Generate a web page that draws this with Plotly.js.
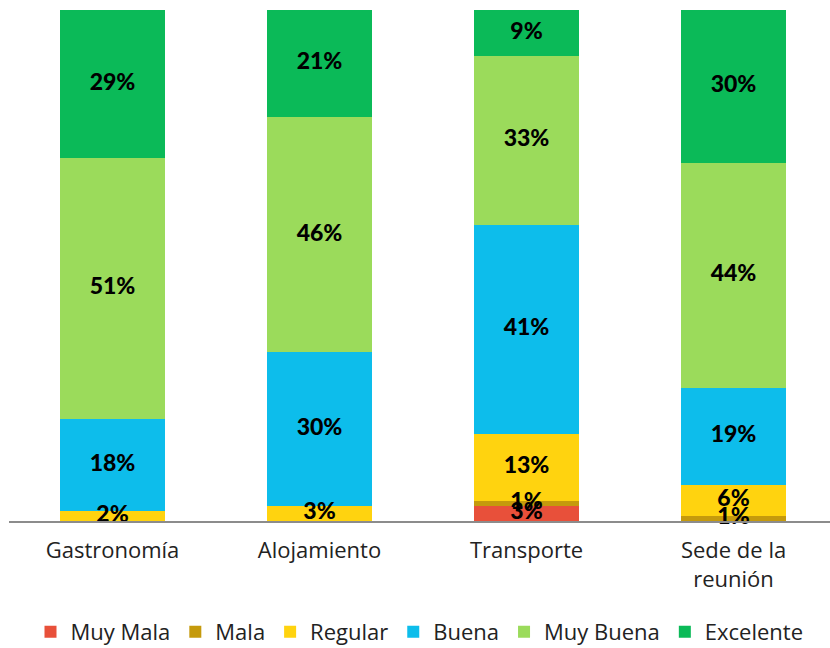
<!DOCTYPE html>
<html>
<head>
<meta charset="utf-8">
<script src="https://cdn.plot.ly/plotly-3.0.1.min.js"></script>
<style>html,body{margin:0;padding:0;background:#fff;}#chart{width:830px;height:648px;}</style>
</head>
<body>
<div id="chart"></div>
<script>
const categories = ['Gastronomía', 'Alojamiento', 'Transporte', 'Sede de la<br>reunión'];
const seriesNames = ['Muy Mala', 'Mala', 'Regular', 'Buena', 'Muy Buena', 'Excelente'];
const muyMala   = [0, 0, 3, 0];
const mala      = [0, 0, 1, 1];
const regular   = [2, 3, 13, 6];
const buena     = [18, 30, 41, 19];
const muyBuena  = [51, 46, 33, 44];
const excelente = [29, 21, 9, 30];
const colors = ['#E8503A', '#C59A0C', '#FFD30F', '#0DBDEB', '#9BDB5B', '#0BBA58'];

const series = [muyMala, mala, regular, buena, muyBuena, excelente];
const font = '"Open Sans", Lato, sans-serif';
const labelFont = 'Lato, "Open Sans", sans-serif';

const traces = series.map((vals, i) => ({
  type: 'bar',
  name: seriesNames[i],
  x: categories,
  y: vals,
  marker: {color: colors[i], line: {width: 0}},
  hoverinfo: 'skip'
}));

// labels at segment midpoints
const lx = [], ly = [], lt = [];
const cum = categories.map(() => 0);
series.forEach(vals => {
  vals.forEach((v, j) => {
    if (v > 0) {
      lx.push(categories[j]);
      ly.push(cum[j] + v / 2);
      lt.push(v + '%');
    }
    cum[j] += v;
  });
});
traces.push({
  type: 'scatter',
  mode: 'text',
  x: lx, y: ly, text: lt,
  textposition: 'middle center',
  textfont: {family: labelFont, size: 23, color: '#000', weight: 900},
  cliponaxis: false,
  showlegend: false,
  hoverinfo: 'skip'
});

const layout = {
  width: 830, height: 648,
  margin: {l: 9, r: 0, t: 10, b: 127, autoexpand: false},
  barmode: 'stack',
  bargap: 0.493,
  paper_bgcolor: '#fff',
  plot_bgcolor: '#fff',
  font: {family: font, color: '#222'},
  showlegend: true,
  xaxis: {
    type: 'category',
    automargin: false,
    range: [-0.5, 3.466],
    showline: true, linecolor: '#8c8c8c', linewidth: 2,
    ticks: '', showgrid: false, zeroline: false,
    tickfont: {family: font, size: 22, color: '#222'},
    ticklabelstandoff: 9
  },
  yaxis: {
    range: [0, 100],
    automargin: false,
    visible: false, showgrid: false, zeroline: false, fixedrange: true
  },
  legend: {
    orientation: 'h',
    x: 0.5, xanchor: 'center',
    y: -0.217, yanchor: 'middle',
    font: {family: font, size: 22, color: '#222'},
    traceorder: 'normal',
    itemwidth: 30
  }
};

Plotly.newPlot('chart', traces, layout, {staticPlot: true});
</script>
</body>
</html>
